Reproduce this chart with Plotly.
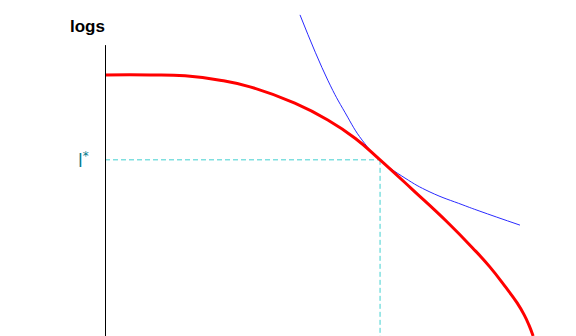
import plotly.graph_objects as go

# Concave curve (thick red) and the convex curve touching it (thin blue)
red_x = [0.00, 0.96, 1.70, 2.44, 3.08, 4.03, 4.73, 5.31, 5.84, 6.54, 7.26, 7.81, 8.17, 8.49, 8.75, 8.90, 9.00, 9.09]
red_y = [5.44, 5.44, 5.42, 5.33, 5.19, 4.85, 4.50, 4.12, 3.67, 3.04, 2.38, 1.83, 1.44, 1.04, 0.69, 0.44, 0.23, 0.00]

blue_x = [4.14, 4.73, 5.10, 5.46, 5.84, 6.37, 6.90, 7.60, 7.96, 8.81]
blue_y = [6.69, 5.33, 4.65, 4.08, 3.67, 3.29, 3.00, 2.73, 2.60, 2.31]

# Tangency point
x_star = 5.84
y_star = 3.67

axis_top = 6.06
axis_x = 0.0106  # half a pixel right of the origin keeps the 1px line crisp

fig = go.Figure()

guide = dict(color="#40D0D0", width=1, dash="5px,3px")
fig.add_trace(go.Scatter(x=[0, x_star], y=[y_star, y_star], mode="lines", line=guide, hoverinfo="skip"))
fig.add_trace(go.Scatter(x=[x_star, x_star], y=[y_star, 0], mode="lines", line=guide, hoverinfo="skip"))

fig.add_trace(go.Scatter(x=blue_x, y=blue_y, mode="lines",
                         line=dict(color="#2a2aff", width=1, shape="spline", smoothing=1.3)))
fig.add_trace(go.Scatter(x=red_x, y=red_y, mode="lines",
                         line=dict(color="#ff0000", width=3, shape="spline", smoothing=1.3)))

# Vertical axis line
fig.add_shape(type="line", xref="x", yref="y", x0=axis_x, x1=axis_x, y0=0, y1=axis_top,
              line=dict(color="black", width=1))

fig.add_annotation(x=0, y=6.44, xref="x", yref="y", text="<b>logs</b>", showarrow=False,
                   xanchor="right", yanchor="middle", xshift=2,
                   font=dict(family="Liberation Sans, Arial", size=17, color="black"))
fig.add_annotation(x=0, y=y_star, xref="x", yref="y", text="l<sup>*</sup>", showarrow=False,
                   xanchor="right", yanchor="middle", xshift=-14,
                   font=dict(family="DejaVu Sans", size=17, color="#007a8a"))

fig.update_xaxes(range=[0, 10], visible=False)
fig.update_yaxes(range=[0, 7], visible=False)
fig.update_layout(width=576, height=336, margin=dict(l=105, r=0, t=0, b=0),
                  paper_bgcolor="white", plot_bgcolor="white", showlegend=False)

fig.write_html("out.html")
